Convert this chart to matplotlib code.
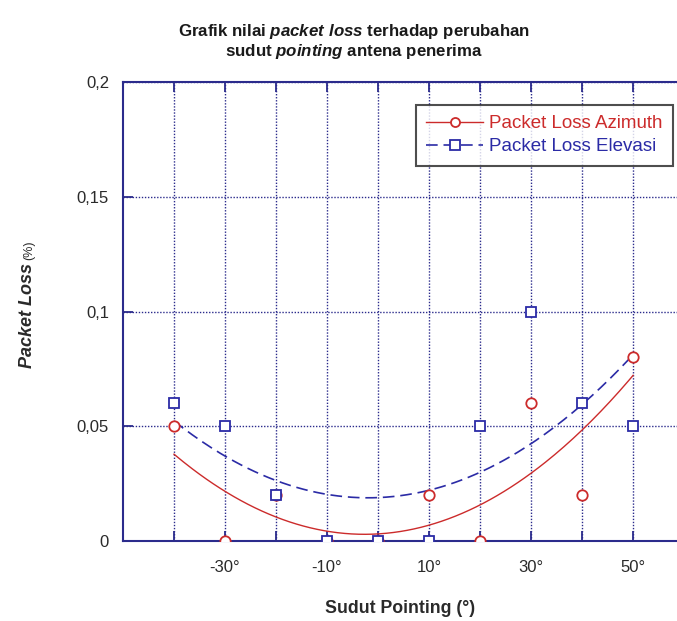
import matplotlib
matplotlib.use("Agg")
import matplotlib.pyplot as plt
import numpy as np
from matplotlib.lines import Line2D
from matplotlib.ticker import FixedLocator, FuncFormatter

# data
sudut = [-40, -30, -20, -10, 0, 10, 20, 30, 40, 50]
loss_azimuth = [0.05, 0.0, 0.02, 0.0, 0.0, 0.02, 0.0, 0.06, 0.02, 0.08]
loss_elevasi = [0.06, 0.05, 0.02, 0.0, 0.0, 0.0, 0.05, 0.10, 0.06, 0.05]
x_labelled = [-30, -10, 10, 30, 50]
x_minor = [-40, -20, 0, 20, 40]
y_ticks = [0, 0.05, 0.1, 0.15, 0.2]

navy = "#2b2b8c"
red = "#cc2b2b"
blue = "#2b2ba6"
txt = "#2a2a2a"

plt.rcParams["font.family"] = ["Liberation Sans", "DejaVu Sans"]
plt.rcParams["mathtext.fontset"] = "custom"
plt.rcParams["mathtext.it"] = "Liberation Sans:italic:bold"
plt.rcParams["mathtext.rm"] = "Liberation Sans:bold"

fig = plt.figure(figsize=(6.77, 6.21), dpi=100)
ax = fig.add_axes([123 / 677, 1 - 541 / 621, 1 - 123 / 677, (541 - 82) / 621])

# second order fits through the measured points
xs = np.linspace(sudut[0], sudut[-1], 200)
fit_az = np.polyval(np.polyfit(sudut, loss_azimuth, 2), xs)
fit_el = np.polyval(np.polyfit(sudut, loss_elevasi, 2), xs)

ax.plot(xs, fit_az, color=red, lw=1.0, zorder=3)
ax.plot(xs, fit_el, color=blue, lw=1.2, dashes=(7, 3.5), zorder=3)
ax.plot(sudut, loss_azimuth, ls="none", marker="o", ms=7.5, mfc="white",
        mec=red, mew=1.3, zorder=4)
ax.plot(sudut, loss_elevasi, ls="none", marker="s", ms=7.5, mfc="white",
        mec=blue, mew=1.3, zorder=5)

ax.set_xlim(-50, 58.6)
ax.set_ylim(0, 0.2)
ax.xaxis.set_major_locator(FixedLocator(x_labelled))
ax.xaxis.set_minor_locator(FixedLocator(x_minor))
ax.xaxis.set_major_formatter(FuncFormatter(lambda v, p: "%d°" % v))
ax.yaxis.set_major_locator(FixedLocator(y_ticks))
ax.yaxis.set_major_formatter(FuncFormatter(lambda v, p: ("%g" % v).replace(".", ",")))

ax.grid(True, which="both", color=navy, ls=(0, (1, 1.2)), lw=1.0, zorder=1)
ax.tick_params(axis="both", which="both", direction="in", length=7, width=1.3,
               color=navy, labelsize=12, labelcolor=txt, top=True)
ax.tick_params(axis="x", pad=14)
ax.tick_params(axis="y", pad=10)
for side in ["left", "top", "bottom"]:
    ax.spines[side].set_color(navy)
    ax.spines[side].set_linewidth(1.5)
ax.spines["right"].set_visible(False)

ax.set_xlabel("Sudut Pointing (°)", fontsize=12.8, fontweight="bold", color=txt, labelpad=18)

fig.text(28 / 677, 1 - 316 / 621, "Packet Loss", rotation=90, fontsize=13,
         fontstyle="italic", fontweight="bold", color=txt, ha="center", va="center")
fig.text(29 / 677, 1 - 250 / 621, "(%)", rotation=90, fontsize=9,
         color=txt, ha="center", va="center")

fig.text(354 / 677, 1 - 22 / 621,
         "Grafik nilai $\\mathit{packet\\ loss}$ terhadap perubahan\n"
         "sudut $\\mathit{pointing}$ antena penerima",
         fontsize=12.2, fontweight="bold", color="#1a1a1a", ha="center", va="top",
         linespacing=1.05)

handles = [
    Line2D([], [], color=red, lw=1.0, marker="o", ms=6.5, mfc="white", mec=red, mew=1.3),
    Line2D([], [], color=blue, lw=1.2, dashes=(7, 3.5), marker="s", ms=6.5,
           mfc="white", mec=blue, mew=1.3),
]
leg = fig.legend(handles, ["Packet Loss Azimuth", "Packet Loss Elevasi"],
                 loc="upper right", bbox_to_anchor=(673 / 677, 1 - 105 / 621),
                 fontsize=13.5, labelcolor=[red, blue], frameon=True, fancybox=False,
                 handlelength=3.0, handletextpad=0.35, borderpad=0.55,
                 labelspacing=0.3, borderaxespad=0)
leg.get_frame().set_edgecolor("#222222")
leg.get_frame().set_linewidth(1.5)

fig.savefig("out.png", dpi=100)
